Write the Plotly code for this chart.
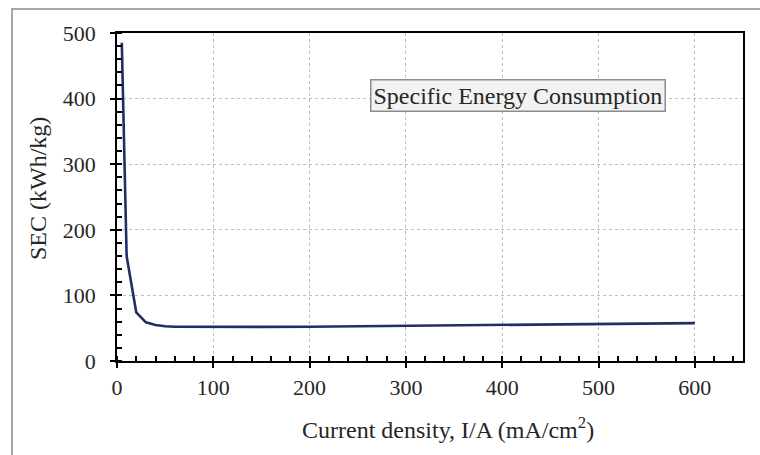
import plotly.graph_objects as go

# Specific energy consumption vs. current density
current_density = [5, 10, 20, 30, 40, 50, 60, 80, 100, 150, 200, 300, 400, 500, 600]
sec_values = [485, 160, 74, 59, 55, 53, 52.3, 52, 52, 52, 52.3, 53.5, 55, 56.5, 57.8]

x_ticks = [0, 100, 200, 300, 400, 500, 600]
y_ticks = [0, 100, 200, 300, 400, 500]

FONT = "Liberation Serif, Times New Roman, serif"
TEXT = "#262626"

fig = go.Figure()
fig.add_trace(go.Scatter(
    x=current_density, y=sec_values, mode="lines",
    line=dict(color="#1f2f66", width=2.6),
    showlegend=False, hoverinfo="x+y",
))

axis_common = dict(
    showline=True, linecolor="black", linewidth=1.8, mirror=True,
    ticks="outside", ticklen=5, tickwidth=1.8, tickcolor="black",
    showgrid=True, gridcolor="#bdbdbd", gridwidth=1, griddash="3px,3px",
    zeroline=False,
    tickfont=dict(family=FONT, size=22, color=TEXT),
)

fig.update_layout(
    width=760, height=455,
    margin=dict(l=117, r=17, t=33, b=94),
    paper_bgcolor="white", plot_bgcolor="white",
    font=dict(family=FONT, color=TEXT),
    xaxis=dict(
        range=[0, 650], tickvals=x_ticks, ticktext=[str(v) for v in x_ticks],
        ticklabelstandoff=1,
        minor=dict(dtick=20, tick0=0, ticks="inside", ticklen=5, tickwidth=1.6,
                   tickcolor="black", showgrid=False),
        **axis_common,
    ),
    yaxis=dict(
        range=[0, 500], tickvals=y_ticks, ticktext=[str(v) for v in y_ticks],
        ticklabelstandoff=10,
        minor=dict(dtick=20, tick0=0, ticks="inside", ticklen=5, tickwidth=1.6,
                   tickcolor="black", showgrid=False),
        **axis_common,
    ),
    # inner halves of the major ticks
    xaxis2=dict(overlaying="x", range=[0, 650], tickvals=x_ticks, ticks="inside",
                ticklen=5, tickwidth=1.8, tickcolor="black", showticklabels=False,
                showgrid=False, zeroline=False, showline=False, side="bottom",
                matches="x"),
    yaxis2=dict(overlaying="y", range=[0, 500], tickvals=y_ticks, ticks="inside",
                ticklen=5, tickwidth=1.8, tickcolor="black", showticklabels=False,
                showgrid=False, zeroline=False, showline=False, side="left",
                matches="y"),
)

# dummy trace to activate the second axis pair
fig.add_trace(go.Scatter(x=[None], y=[None], xaxis="x2", yaxis="y2",
                         showlegend=False, hoverinfo="skip"))

# outer frame
fig.add_shape(type="rect", xref="paper", yref="paper",
              x0=(12 - 117) / 626, x1=(800 - 117) / 626,
              y0=(361 - 500) / 328, y1=(361 - 9) / 328,
              line=dict(color="#a6a6a6", width=2), layer="below")

fig.add_annotation(
    x=416, y=405, xref="x", yref="y",
    text="Specific Energy Consumption", showarrow=False,
    font=dict(family=FONT, size=24, color=TEXT),
    bgcolor="#f2f2f2", bordercolor="#8c8c8c", borderwidth=1.5, borderpad=2,
)

fig.add_annotation(
    x=(448 - 117) / 626, y=(361 - 428) / 328, xref="paper", yref="paper",
    xanchor="center", yanchor="middle",
    text="Current density, I/A (mA/cm<sup>2</sup>)", showarrow=False,
    font=dict(family=FONT, size=24, color=TEXT),
)
fig.add_annotation(
    x=(38 - 117) / 626, y=(361 - 189) / 328, xref="paper", yref="paper",
    xanchor="center", yanchor="middle",
    text="SEC (kWh/kg)", textangle=-90, showarrow=False,
    font=dict(family=FONT, size=24, color=TEXT),
)

fig.write_html("out.html")
